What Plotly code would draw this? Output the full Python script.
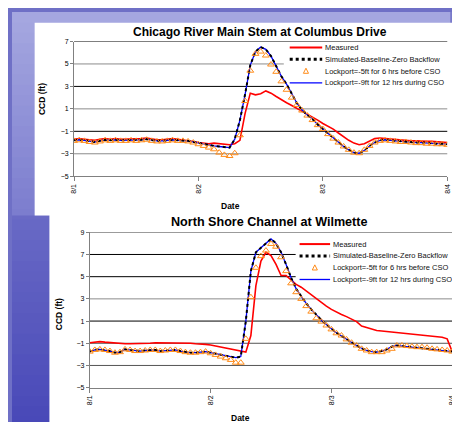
import plotly.graph_objects as go

# ---------------- data ----------------
hours = list(range(73))          # hourly samples from 8/1 00:00 to 8/4 00:00
day_ticks = [0, 24, 48, 72]
day_labels = ["8/1", "8/2", "8/3", "8/4"]
yticks_top = [-5, -3, -1, 1, 3, 5, 7]
yticks_bot = [-5, -3, -1, 1, 3, 5, 7, 9]

series_names = [
    "Measured",
    "Simulated-Baseline-Zero Backflow",
    "Lockport=-5ft for 6 hrs before CSO",
    "Lockport=-9ft for 12 hrs during CSO",
]

# Chicago River Main Stem at Columbus Drive
measured_top = [
    -1.7, -1.65, -1.7, -1.75, -1.8, -1.7, -1.65, -1.7, -1.65, -1.7, -1.7, -1.65,
    -1.7, -1.65, -1.6, -1.7, -1.75, -1.75, -1.7, -1.65, -1.7, -1.75, -1.8, -1.9,
    -2.0, -2.05, -2.1, -2.05, -2.1, -2.15, -2.2, -2.1, -1.8, 0.6, 2.4, 2.25,
    2.35, 2.6, 2.4, 2.1, 1.8, 1.55, 1.3, 1.05, 0.8, 0.55, 0.3, 0.0,
    -0.3, -0.55, -0.8, -1.15, -1.5, -1.8, -2.05, -2.2, -2.1, -1.85, -1.65, -1.6,
    -1.65, -1.7, -1.75, -1.8, -1.8, -1.85, -1.85, -1.9, -1.9, -1.9, -1.95, -1.95, -2.0,
]
baseline_top = [
    -1.8, -1.75, -1.8, -1.9, -1.95, -1.85, -1.75, -1.8, -1.75, -1.8, -1.8, -1.75,
    -1.8, -1.75, -1.7, -1.8, -1.85, -1.85, -1.8, -1.75, -1.8, -1.8, -1.85, -1.95,
    -2.05, -2.1, -2.2, -2.3, -2.35, -2.4, -2.45, -1.7, 0.0, 2.3, 4.9, 6.1,
    6.5, 6.3, 5.7, 4.8, 3.9, 3.2, 2.3, 1.5, 0.9, 0.45, 0.1, -0.4,
    -0.8, -1.2, -1.6, -2.0, -2.35, -2.65, -2.9, -2.95, -2.7, -2.3, -2.0, -1.8,
    -1.75, -1.8, -1.85, -1.9, -1.9, -1.95, -2.0, -2.0, -2.05, -2.05, -2.1, -2.1, -2.15,
]
lock5_top = [
    -1.85, -1.8, -1.85, -1.95, -2.0, -1.9, -1.8, -1.85, -1.8, -1.85, -1.85, -1.8,
    -1.85, -1.8, -1.75, -1.85, -1.9, -1.9, -1.85, -1.8, -1.85, -1.85, -1.9, -2.0,
    -2.15, -2.3, -2.45, -2.6, -2.9, -3.1, -3.2, -2.95, -1.35, 1.7, 4.4, 5.9,
    6.1, 5.75, 4.95, 4.3, 3.45, 2.7, 2.0, 1.35, 0.85, 0.4, 0.0, -0.45,
    -0.8, -1.25, -1.65, -2.0, -2.35, -2.65, -2.9, -2.95, -2.65, -2.3, -2.0, -1.85,
    -1.8, -1.85, -1.9, -1.95, -1.95, -2.0, -2.05, -2.05, -2.1, -2.1, -2.15, -2.15, -2.2,
]
lock9_top = [
    -1.8, -1.75, -1.8, -1.9, -1.95, -1.85, -1.75, -1.8, -1.75, -1.8, -1.8, -1.75,
    -1.8, -1.75, -1.7, -1.8, -1.85, -1.85, -1.8, -1.75, -1.8, -1.8, -1.85, -1.95,
    -2.05, -2.1, -2.2, -2.3, -2.35, -2.4, -2.45, -1.7, 0.0, 2.3, 4.9, 6.1,
    6.5, 6.3, 5.7, 4.8, 3.9, 3.2, 2.3, 1.5, 0.9, 0.45, 0.1, -0.4,
    -0.8, -1.2, -1.6, -2.0, -2.35, -2.65, -2.9, -2.95, -2.7, -2.3, -2.0, -1.8,
    -1.75, -1.8, -1.85, -1.9, -1.9, -1.95, -2.0, -2.0, -2.05, -2.05, -2.1, -2.1, -2.15,
]

# North Shore Channel at Wilmette
measured_bot = [
    -0.95, -0.9, -0.85, -0.9, -0.95, -1.0, -1.05, -1.05, -1.05, -1.05, -1.0, -1.0,
    -1.0, -0.95, -0.95, -0.95, -0.95, -0.95, -1.0, -1.0, -1.0, -1.05, -1.05, -1.1,
    -1.15, -1.25, -1.35, -1.45, -1.55, -1.6, -1.7, -1.8, -0.3, 4.2, 6.4, 7.2,
    6.9, 6.1, 5.1, 5.1, 4.7, 4.3, 4.05, 3.7, 3.35, 3.0, 2.7, 2.35,
    2.05, 1.8, 1.6, 1.4, 1.15, 0.95, 0.55, 0.4, 0.3, 0.15, 0.1, 0.05,
    0.0, -0.05, -0.1, -0.15, -0.2, -0.25, -0.25, -0.3, -0.35, -0.4, -0.45, -0.6, -1.75,
]
baseline_bot = [
    -1.75, -1.6, -1.55, -1.6, -1.7, -1.85, -1.8, -1.55, -1.6, -1.7, -1.7, -1.65,
    -1.6, -1.6, -1.7, -1.65, -1.6, -1.6, -1.7, -1.8, -1.85, -1.85, -1.8, -1.75,
    -1.85, -1.95, -2.05, -2.15, -2.25, -2.3, -2.2, 1.0, 5.5, 7.2, 7.6, 8.0,
    8.4, 8.0, 7.2, 6.1, 4.9, 3.9, 3.2, 2.6, 2.05, 1.55, 1.1, 0.7,
    0.3, -0.05, -0.35, -0.65, -0.95, -1.2, -1.45, -1.65, -1.75, -1.8, -1.7, -1.55,
    -1.3, -1.2, -1.25, -1.3, -1.35, -1.4, -1.45, -1.5, -1.55, -1.6, -1.65, -1.7, -1.75,
]
lock5_bot = [
    -1.75, -1.6, -1.55, -1.6, -1.7, -1.85, -1.8, -1.55, -1.6, -1.7, -1.7, -1.65,
    -1.6, -1.6, -1.7, -1.65, -1.6, -1.6, -1.7, -1.8, -1.85, -1.85, -1.8, -1.75,
    -1.9, -2.05, -2.2, -2.35, -2.5, -2.75, -2.75, -0.6, 3.15, 5.8, 6.85, 7.35,
    7.95, 7.7, 6.75, 5.5, 4.4, 3.6, 3.0, 2.35, 1.85, 1.25, 0.95, 0.6,
    0.25, -0.1, -0.3, -0.65, -0.95, -1.2, -1.5, -1.65, -1.8, -1.8, -1.8, -1.65,
    -1.5, -1.2, -1.2, -1.25, -1.3, -1.35, -1.35, -1.4, -1.5, -1.55, -1.6, -1.65, -1.75,
]
lock9_bot = [
    -1.75, -1.6, -1.55, -1.6, -1.7, -1.85, -1.8, -1.55, -1.6, -1.7, -1.7, -1.65,
    -1.6, -1.6, -1.7, -1.65, -1.6, -1.6, -1.7, -1.8, -1.85, -1.85, -1.8, -1.75,
    -1.85, -1.95, -2.05, -2.15, -2.25, -2.3, -2.2, 1.0, 5.5, 7.2, 7.6, 8.0,
    8.4, 8.0, 7.2, 6.1, 4.9, 3.9, 3.2, 2.6, 2.05, 1.55, 1.1, 0.7,
    0.3, -0.05, -0.35, -0.65, -0.95, -1.2, -1.45, -1.65, -1.75, -1.8, -1.7, -1.55,
    -1.3, -1.2, -1.25, -1.3, -1.35, -1.4, -1.45, -1.5, -1.55, -1.6, -1.65, -1.7, -1.75,
]

# ---------------- styling ----------------
W, H = 460, 422
FONT = "Arial, Liberation Sans, sans-serif"
RED, BLUE, BLACK, ORANGE = "#ff0000", "#0000ff", "#000000", "#ff8c1a"


def px(x):
    return x / W


def py(y):
    return 1 - y / H


fig = go.Figure()


def add_series(xa, ya, meas, base, l5, l9):
    fig.add_trace(go.Scatter(x=hours, y=meas, mode="lines", name=series_names[0],
                             line=dict(color=RED, width=1.6), xaxis=xa, yaxis=ya, showlegend=False))
    fig.add_trace(go.Scatter(x=hours, y=l9, mode="lines", name=series_names[3],
                             line=dict(color=BLUE, width=1.3), xaxis=xa, yaxis=ya, showlegend=False))
    fig.add_trace(go.Scatter(x=hours, y=base, mode="lines", name=series_names[1],
                             line=dict(color=BLACK, width=2, dash="dot"), xaxis=xa, yaxis=ya, showlegend=False))
    fig.add_trace(go.Scatter(x=hours, y=l5, mode="markers", name=series_names[2],
                             marker=dict(symbol="triangle-up-open", color=ORANGE, size=6,
                                         line=dict(width=1, color=ORANGE)),
                             xaxis=xa, yaxis=ya, showlegend=False))


add_series("x", "y", measured_top, baseline_top, lock5_top, lock9_top)
add_series("x2", "y2", measured_bot, baseline_bot, lock5_bot, lock9_bot)

axis_common = dict(showline=True, linecolor="#808080", linewidth=1, ticks="outside",
                   tickcolor="#808080", zeroline=False, showgrid=False,
                   tickfont=dict(family=FONT, size=7, color="#000"))

xcommon = dict(axis_common, range=[0, 72], tickvals=day_ticks, ticktext=day_labels,
               tickangle=-90, ticklen=4)

fig.update_layout(
    width=W, height=H, autosize=False,
    margin=dict(l=0, r=0, t=0, b=0),
    paper_bgcolor="#6f70c6", plot_bgcolor="rgba(0,0,0,0)",
    showlegend=False,
    xaxis=dict(xcommon, domain=[px(63), px(442)], anchor="y"),
    yaxis=dict(axis_common, domain=[py(167), py(30)], anchor="x", range=[-5, 7],
               tickvals=yticks_top, ticklen=3),
    xaxis2=dict(xcommon, domain=[px(79), px(447)], anchor="y2"),
    yaxis2=dict(axis_common, domain=[py(382), py(224)], anchor="x2", range=[-5, 9],
                tickvals=yticks_bot, ticklen=3),
)

shapes = []
# background gradient (slide)
N = 40
c0, c1 = (165, 167, 224), (80, 80, 188)
for i in range(N):
    t = i / (N - 1)
    c = tuple(int(round(c0[k] + (c1[k] - c0[k]) * t)) for k in range(3))
    shapes.append(dict(type="rect", xref="paper", yref="paper", x0=0, x1=1,
                       y0=1 - (i + 1) / N - 0.002, y1=1 - i / N,
                       fillcolor="rgb(%d,%d,%d)" % c, line=dict(width=0), layer="below"))
shapes.append(dict(type="rect", xref="paper", yref="paper", x0=px(445), x1=1, y0=0, y1=1,
                   fillcolor="rgba(40,40,160,0.35)", line=dict(width=0), layer="below"))
shapes.append(dict(type="rect", xref="paper", yref="paper", x0=0, x1=px(38), y0=0, y1=py(207),
                   fillcolor="rgba(50,50,170,0.25)", line=dict(width=0), layer="below"))
# white chart panels
shapes.append(dict(type="rect", xref="paper", yref="paper", x0=px(23), x1=px(450), y0=py(207), y1=py(11),
                   fillcolor="white", line=dict(width=0), layer="below"))
shapes.append(dict(type="rect", xref="paper", yref="paper", x0=px(38), x1=px(455), y0=0, y1=py(203),
                   fillcolor="white", line=dict(width=0), layer="below"))

# horizontal gridlines (stopping at the legend box where it covers them)
GRAY, DARK = "#8c8c8c", "#000000"


def gridlines(xref, yref, ticks, colors, cut_vals, cut_x):
    for v, col in zip(ticks, colors):
        shapes.append(dict(type="line", xref=xref, yref=yref, x0=0, x1=cut_x if v in cut_vals else 1,
                           y0=v, y1=v, line=dict(color=col, width=1), layer="below"))


gridlines("x domain", "y", yticks_top[1:], [GRAY, DARK, GRAY, DARK, GRAY, DARK], [5, 3], 0.562)
gridlines("x2 domain", "y2", yticks_bot[1:], ["#555555", "#555555", DARK, GRAY, DARK, DARK, "#555555"],
          [7, 5], 0.568)

annotations = []


def legend(rows, x0, x1, xt):
    xc = (x0 + x1) / 2
    styles = [dict(color=RED, width=2), dict(color=BLACK, width=3, dash="dot"), None,
              dict(color=BLUE, width=1.3)]
    for name, yr, st in zip(series_names, rows, styles):
        if st is None:
            s = 2.6
            path = "M %f,%f L %f,%f L %f,%f Z" % (px(xc - s), py(yr + s * 0.9), px(xc + s), py(yr + s * 0.9),
                                                   px(xc), py(yr - s * 1.1))
            shapes.append(dict(type="path", xref="paper", yref="paper", path=path,
                               line=dict(color=ORANGE, width=1), fillcolor="white", layer="above"))
        else:
            shapes.append(dict(type="line", xref="paper", yref="paper", x0=px(x0), x1=px(x1),
                               y0=py(yr), y1=py(yr), line=st, layer="above"))
        annotations.append(dict(xref="paper", yref="paper", x=px(xt), y=py(yr), text=name,
                                showarrow=False, xanchor="left", yanchor="middle",
                                font=dict(family=FONT, size=7.5, color="#111")))


legend([36, 48, 60, 72], 282, 315, 316)
legend([236, 248, 260, 272], 292, 323, 324)


def text(x, y, s, size, angle=0):
    annotations.append(dict(xref="paper", yref="paper", x=px(x), y=py(y), text=s, showarrow=False,
                            xanchor="center", yanchor="middle", textangle=angle,
                            font=dict(family=FONT, size=size, color="#000")))


text(252, 20, "<b>Chicago River Main Stem at Columbus Drive</b>", 12)
text(261, 214, "<b>North Shore Channel at Wilmette</b>", 12.6)
text(222, 197, "<b>Date</b>", 8.5)
text(232, 413, "<b>Date</b>", 8.5)
text(30, 89, "<b>CCD (ft)</b>", 8.5, -90)
text(48, 307, "<b>CCD (ft)</b>", 8.5, -90)

fig.update_layout(shapes=shapes, annotations=annotations)
fig.write_html("out.html")
